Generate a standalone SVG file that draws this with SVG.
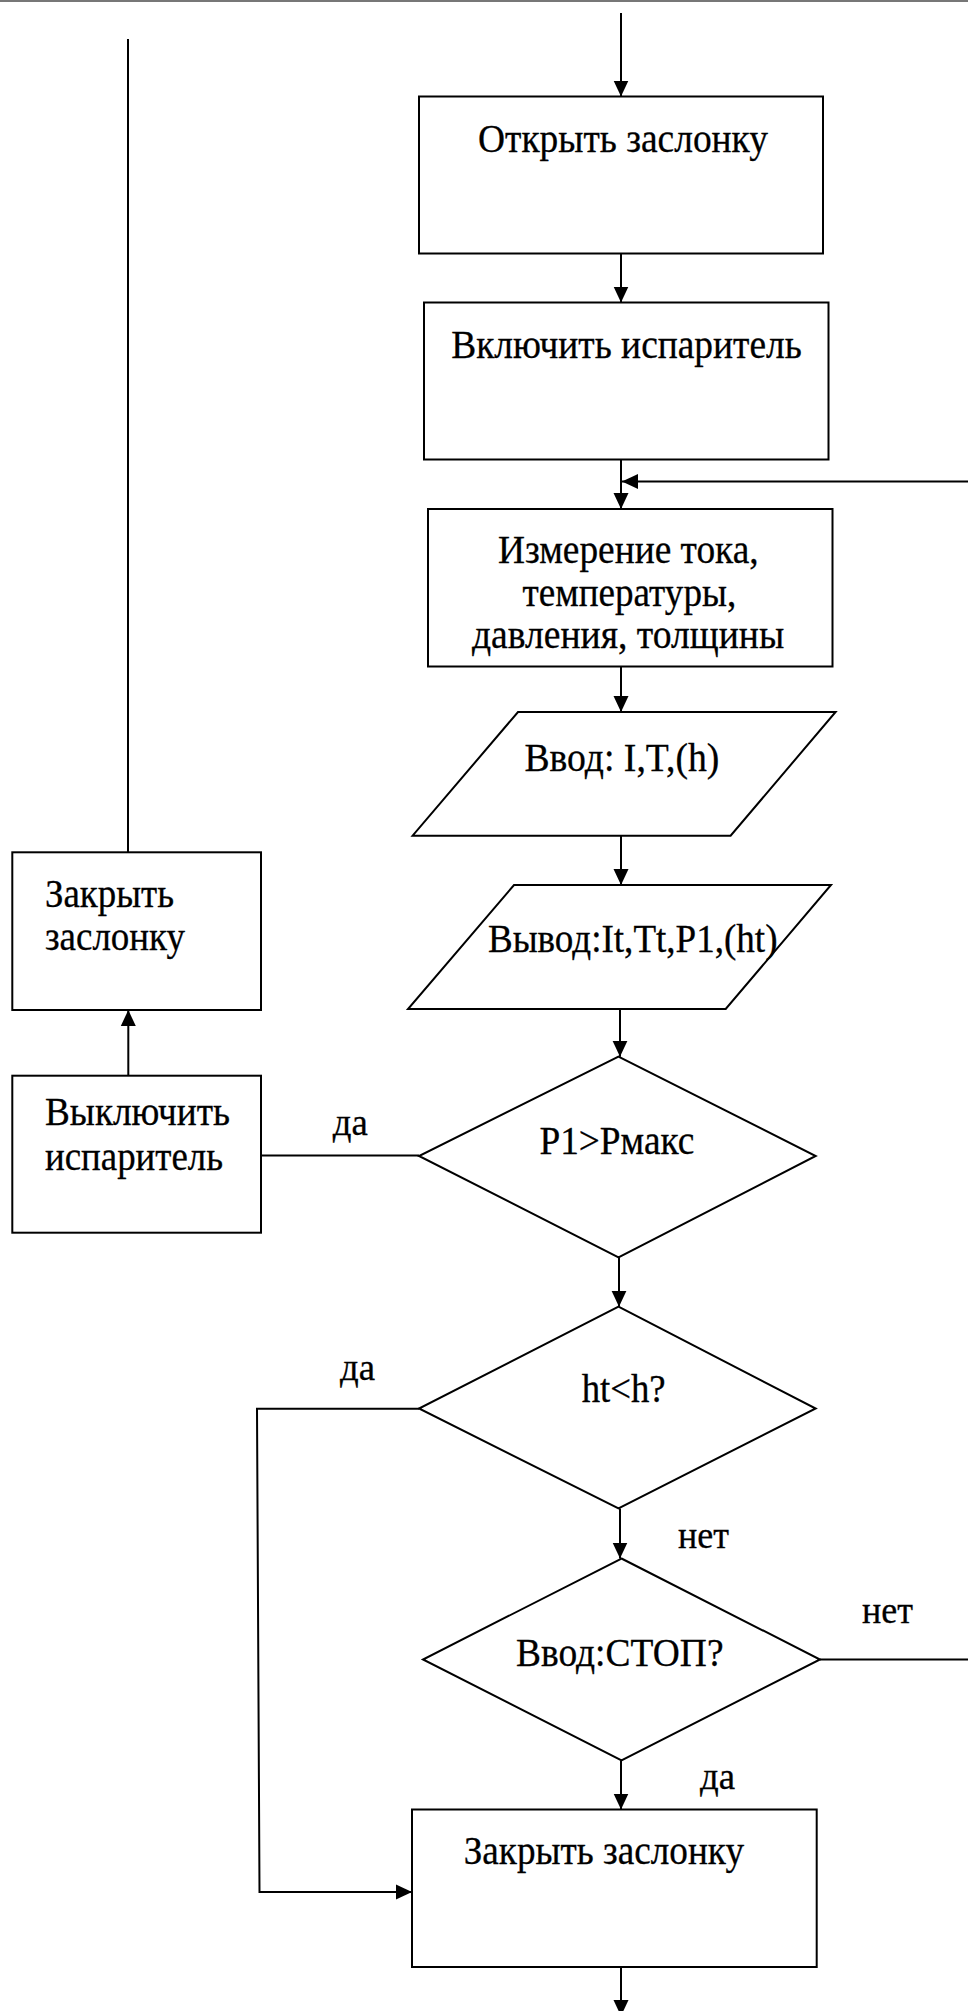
<svg xmlns="http://www.w3.org/2000/svg" width="968" height="2011" viewBox="0 0 968 2011" font-family="Liberation Serif, Times New Roman, DejaVu Serif, serif">
  <style>
    .shape { fill: #ffffff; stroke: #000000; stroke-width: 2; }
    .wire { fill: none; stroke: #000000; stroke-width: 2; }
    .txt { font-size: 40px; fill: #000000; stroke: #000000; stroke-width: 0.3; }
    .lbl { font-size: 38px; fill: #000000; stroke: #000000; stroke-width: 0.3; }
  </style>
  <defs>
    <marker id="arrow" markerUnits="userSpaceOnUse" markerWidth="16" markerHeight="16" viewBox="0 0 16 16" refX="16" refY="8" orient="auto">
      <path d="M0,0.5 L16,8 L0,15.5 Z" fill="#000000"/>
    </marker>
  </defs>

  <rect width="968" height="2011" fill="#ffffff"/>
  <!-- page frame edge at the top -->
  <line x1="0" y1="1" x2="968" y2="1" stroke="#4a4a4a" stroke-width="1.6"/>

  <!-- connectors -->
  <g id="connectors">
    <path class="wire" d="M621 13 V96.5" marker-end="url(#arrow)"/>
    <path class="wire" d="M621 253.5 V302.5" marker-end="url(#arrow)"/>
    <path class="wire" d="M621 459.5 V509" marker-end="url(#arrow)"/>
    <path class="wire" d="M968 481.5 H622" marker-end="url(#arrow)"/>
    <path class="wire" d="M621 666.5 V712" marker-end="url(#arrow)"/>
    <path class="wire" d="M621 835.7 V885" marker-end="url(#arrow)"/>
    <path class="wire" d="M620 1009 V1056.7" marker-end="url(#arrow)"/>
    <path class="wire" d="M419 1155.5 H261"/>
    <path class="wire" d="M128.3 1075.7 V1010" marker-end="url(#arrow)"/>
    <path class="wire" d="M128 852.3 V39"/>
    <path class="wire" d="M619 1257.3 V1306.7" marker-end="url(#arrow)"/>
    <path class="wire" d="M419 1408.7 H257 L259.5 1892 H412" marker-end="url(#arrow)"/>
    <path class="wire" d="M620 1508.5 V1558.5" marker-end="url(#arrow)"/>
    <path class="wire" d="M820 1659.5 H968"/>
    <path class="wire" d="M621 1760.4 V1809.5" marker-end="url(#arrow)"/>
    <path class="wire" d="M621 1967 V2016" marker-end="url(#arrow)"/>
  </g>

  <!-- edge labels -->
  <g id="labels">
    <text class="lbl" x="332.7" y="1135" textLength="35" lengthAdjust="spacingAndGlyphs">да</text>
    <text class="lbl" x="340" y="1380" textLength="35" lengthAdjust="spacingAndGlyphs">да</text>
    <text class="lbl" x="678" y="1547.7" textLength="51" lengthAdjust="spacingAndGlyphs">нет</text>
    <text class="lbl" x="862" y="1622.5" textLength="51" lengthAdjust="spacingAndGlyphs">нет</text>
    <text class="lbl" x="700" y="1789" textLength="35" lengthAdjust="spacingAndGlyphs">да</text>
  </g>

  <g id="open-shutter">
    <rect class="shape" x="419" y="96.5" width="404" height="157"/>
    <text class="txt" x="478" y="152" textLength="290" lengthAdjust="spacingAndGlyphs">Открыть заслонку</text>
  </g>

  <g id="heater-on">
    <rect class="shape" x="424" y="302.5" width="404.5" height="157"/>
    <text class="txt" x="451.2" y="358" textLength="350.6" lengthAdjust="spacingAndGlyphs">Включить испаритель</text>
  </g>

  <g id="measure">
    <rect class="shape" x="428" y="509" width="404.5" height="157.5"/>
    <text class="txt" x="498" y="563.3" textLength="260.6" lengthAdjust="spacingAndGlyphs">Измерение тока,</text>
    <text class="txt" x="522.5" y="605.5" textLength="213.7" lengthAdjust="spacingAndGlyphs">температуры,</text>
    <text class="txt" x="471.9" y="648" textLength="312.3" lengthAdjust="spacingAndGlyphs">давления, толщины</text>
  </g>

  <g id="input-data">
    <polygon class="shape" points="518,712 835.6,712 730.6,835.7 412.6,835.7"/>
    <text class="txt" x="524.4" y="770.7" textLength="195" lengthAdjust="spacingAndGlyphs">Ввод: I,T,(h)</text>
  </g>

  <g id="output-data">
    <polygon class="shape" points="514,885 831,885 725.7,1009 408,1009"/>
    <text class="txt" x="488" y="951.7" textLength="289.5" lengthAdjust="spacingAndGlyphs">Вывод:It,Tt,P1,(ht)</text>
  </g>

  <g id="check-pressure">
    <polygon class="shape" points="618.5,1056.7 815.7,1156 618.5,1257.3 419,1156"/>
    <text class="txt" x="539.4" y="1154.3" textLength="154.8" lengthAdjust="spacingAndGlyphs">P1&gt;Pмакс</text>
  </g>

  <g id="check-thickness">
    <polygon class="shape" points="618.5,1306.7 815.7,1408.5 618.5,1508.5 419,1408.5"/>
    <text class="txt" x="581.7" y="1402.3" textLength="84" lengthAdjust="spacingAndGlyphs">ht&lt;h?</text>
  </g>

  <g id="check-stop">
    <polygon class="shape" points="621.5,1558.5 820,1659.5 621.5,1760.4 423,1659.5"/>
    <text class="txt" x="516" y="1665.6" textLength="207.5" lengthAdjust="spacingAndGlyphs">Ввод:СТОП?</text>
  </g>

  <g id="close-shutter-end">
    <rect class="shape" x="412" y="1809.5" width="404.7" height="157.5"/>
    <text class="txt" x="463.7" y="1864.4" textLength="280.3" lengthAdjust="spacingAndGlyphs">Закрыть заслонку</text>
  </g>

  <g id="close-shutter-alarm">
    <rect class="shape" x="12.3" y="852.3" width="248.7" height="157.7"/>
    <text class="txt" x="45" y="907.3" textLength="129" lengthAdjust="spacingAndGlyphs">Закрыть</text>
    <text class="txt" x="45" y="950" textLength="140" lengthAdjust="spacingAndGlyphs">заслонку</text>
  </g>

  <g id="heater-off">
    <rect class="shape" x="12.3" y="1075.7" width="248.7" height="157"/>
    <text class="txt" x="45" y="1125" textLength="185" lengthAdjust="spacingAndGlyphs">Выключить</text>
    <text class="txt" x="45" y="1170" textLength="178" lengthAdjust="spacingAndGlyphs">испаритель</text>
  </g>
</svg>
